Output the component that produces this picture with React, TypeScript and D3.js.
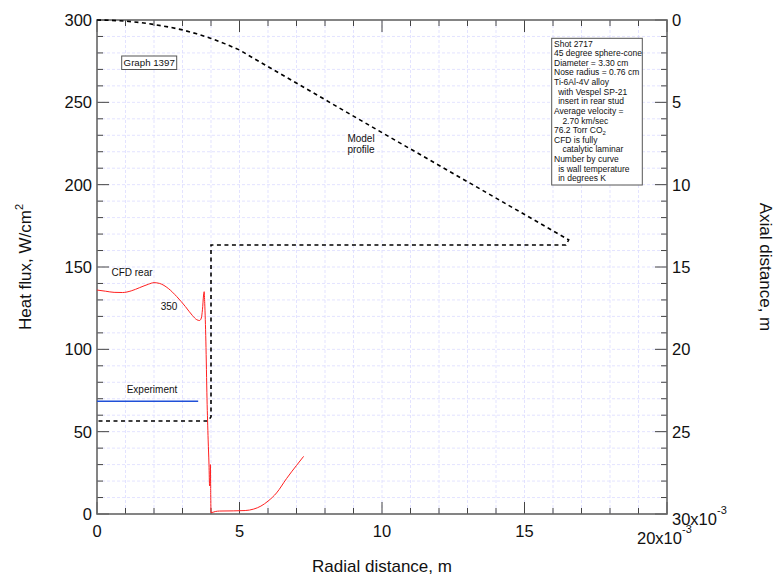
import React from "react";
import * as d3 from "d3";

// ---- data (x in 10^-3 m) ----
const profileR = [0, 0.5, 1, 1.5, 2, 2.5, 3, 3.5, 4, 4.5, 5, 5.37, 10, 16.55, 16.45, 4.0, 4.0, 3.9, 0];
const profileZ = [0, 0.02, 0.07, 0.15, 0.27, 0.42, 0.6, 0.84, 1.12, 1.45, 1.82, 2.2, 6.84, 13.35, 13.66, 13.66, 24.1, 24.35, 24.35];

const cfdR = [0, 0.3, 0.6, 0.9, 1.2, 1.5, 1.8, 2.0, 2.2, 2.5, 2.8, 3.1, 3.35, 3.5, 3.6, 3.66, 3.7, 3.74, 3.76, 3.78, 3.82, 3.86, 3.9, 3.93, 3.95, 3.97, 3.98, 3.99, 4.0, 4.15, 4.3, 4.8, 5.2, 5.5, 5.75, 6.0, 6.3, 6.65, 7.0, 7.25];
const cfdQ = [136, 135.3, 134.6, 134.5, 135.5, 137.5, 139.5, 140.5, 140, 137, 132, 126, 120.5, 118, 117.5, 119, 124, 133, 135, 128, 105, 70, 45, 30, 17, 20, 30, 12, 0.8, 1.5, 1.8, 1.9, 2.1, 3.0, 4.8, 7.8, 12.8, 21.5, 29.5, 35];

const expR = [0, 3.55];
const expQ = [68.5, 68.5];

const leftTicks = [0, 50, 100, 150, 200, 250, 300];
const rightTicks = [0, 5, 10, 15, 20, 25];
const bottomTicks = [0, 5, 10, 15];

const infoLines = [
  "Shot 2717",
  "45 degree sphere-cone",
  "Diameter = 3.30 cm",
  "Nose radius = 0.76 cm",
  "Ti-6Al-4V alloy",
  "  with Vespel SP-21",
  "  insert in rear stud",
  "Average velocity =",
  "    2.70 km/sec",
  "76.2 Torr CO|2",
  "CFD is fully",
  "    catalytic laminar",
  "Number by curve",
  "  is wall temperature",
  "  in degrees K",
];

const W = 778, H = 577;
const L = 97, R = 667, T = 20, B = 514;
const FONT = "'Liberation Sans', Arial, Helvetica, sans-serif";

export default function App() {
  const x = d3.scaleLinear().domain([0, 20]).range([L, R]);
  const yL = d3.scaleLinear().domain([0, 300]).range([B, T]);
  const yR = d3.scaleLinear().domain([0, 30]).range([T, B]);

  const profLine = d3.line<number>().x((_, i) => x(profileR[i])).y((_, i) => yR(profileZ[i]));
  const cfdLine = d3.line<number>().x((_, i) => x(cfdR[i])).y((_, i) => yL(cfdQ[i])).curve(d3.curveMonotoneX);
  const expLine = d3.line<number>().x((_, i) => x(expR[i])).y((_, i) => yL(expQ[i]));

  const xMinor = d3.range(0, 21, 1);
  const yMinor = d3.range(0, 301, 10);
  const rMinor = d3.range(0, 31, 1);

  const grid = "#dcdcff";
  const tickCol = "#444";

  return (
    <svg width={W} height={H} style={{ position: "absolute", left: 0, top: 0, background: "#fff" }} fontFamily={FONT}>
      {/* grid */}
      {xMinor.filter(v => v > 0 && v < 20).map(v => (
        <line key={"gx" + v} x1={x(v)} x2={x(v)} y1={T} y2={B} stroke={grid} strokeWidth={0.8} strokeDasharray="3,2" />
      ))}
      {yMinor.filter(v => v > 0 && v < 300).map(v => (
        <line key={"gy" + v} x1={L} x2={R} y1={yL(v)} y2={yL(v)} stroke={grid} strokeWidth={0.8} strokeDasharray="3,2" />
      ))}

      {/* ticks bottom/top */}
      {xMinor.map(v => {
        const major = v % 5 === 0;
        const len = major ? 12 : 6;
        return (
          <g key={"tx" + v}>
            <line x1={x(v)} x2={x(v)} y1={B} y2={B - len} stroke={tickCol} strokeWidth={1} />
            <line x1={x(v)} x2={x(v)} y1={T} y2={T + len} stroke={tickCol} strokeWidth={1} />
          </g>
        );
      })}
      {yMinor.map(v => {
        const major = v % 50 === 0;
        const len = major ? 12 : 6;
        return <line key={"ty" + v} x1={L} x2={L + len} y1={yL(v)} y2={yL(v)} stroke={tickCol} strokeWidth={1} />;
      })}
      {rMinor.map(v => {
        const major = v % 5 === 0;
        const len = major ? 12 : 6;
        return <line key={"tr" + v} x1={R} x2={R - len} y1={yR(v)} y2={yR(v)} stroke={tickCol} strokeWidth={1} />;
      })}

      {/* frame */}
      <rect x={L} y={T} width={R - L} height={B - T} fill="none" stroke="#666" strokeWidth={1.6} />

      {/* tick labels */}
      {leftTicks.map(v => (
        <text key={"ll" + v} x={92} y={yL(v)} dy="0.36em" textAnchor="end" fontSize={16.5} fill="#111">{v}</text>
      ))}
      {rightTicks.map(v => (
        <text key={"rl" + v} x={672} y={yR(v)} dy="0.36em" textAnchor="start" fontSize={16.5} fill="#111">{v}</text>
      ))}
      <text x={672} y={525} fontSize={16.5} fill="#111">30x10<tspan fontSize={11} dy={-11}>-3</tspan></text>
      {bottomTicks.map(v => (
        <text key={"bl" + v} x={x(v)} y={537} textAnchor="middle" fontSize={16.5} fill="#111">{v}</text>
      ))}
      <text x={637} y={544} fontSize={16.5} fill="#111">20x10<tspan fontSize={11} dy={-11}>-3</tspan></text>

      {/* axis titles */}
      <text x={382} y={572} textAnchor="middle" fontSize={17} fill="#111">Radial distance, m</text>
      <text transform={`translate(31,${(T + B) / 2}) rotate(-90)`} textAnchor="middle" fontSize={17} fill="#111">
        Heat flux, W/cm<tspan fontSize={11} dy={-8}>2</tspan>
      </text>
      <text transform={`translate(760,${(T + B) / 2}) rotate(90)`} textAnchor="middle" fontSize={17} fill="#111">Axial distance, m</text>

      {/* model profile */}
      <path d={profLine(profileR) || ""} fill="none" stroke="#000" strokeWidth={1.6} strokeDasharray="4,3.5" />

      {/* experiment */}
      <path d={expLine(expR) || ""} fill="none" stroke="#2050d8" strokeWidth={1.6} />

      {/* CFD */}
      <path d={cfdLine(cfdR) || ""} fill="none" stroke="#ff2020" strokeWidth={1} />

      {/* labels */}
      <text x={132} y={276} textAnchor="middle" fontSize={10} fill="#111">CFD rear</text>
      <text x={169} y={310} textAnchor="middle" fontSize={10} fill="#111">350</text>
      <text x={152} y={393} textAnchor="middle" fontSize={10} fill="#111">Experiment</text>
      <text x={361} y={141.5} textAnchor="middle" fontSize={10} fill="#111">Model</text>
      <text x={361} y={152.5} textAnchor="middle" fontSize={10} fill="#111">profile</text>

      {/* Graph box */}
      <rect x={121.7} y={56} width={55} height={13.5} fill="#fff" stroke="#555" strokeWidth={1} />
      <text x={149.2} y={66.3} textAnchor="middle" fontSize={9.7} fill="#111">Graph 1397</text>

      {/* info box */}
      <rect x={551.7} y={38.3} width={90.6} height={146.7} fill="#fff" stroke="#555" strokeWidth={1} />
      {infoLines.map((s, i) => {
        const lead = s.match(/^ */)![0].length;
        const body = s.trim();
        const parts = body.split("|");
        return (
          <text key={"info" + i} x={554 + lead * 2.1} y={46.5 + i * 9.63} fontSize={8.5} fill="#111">
            {parts[0]}
            {parts[1] ? <tspan fontSize={6} dy={2}>{parts[1]}</tspan> : null}
          </text>
        );
      })}
    </svg>
  );
}
